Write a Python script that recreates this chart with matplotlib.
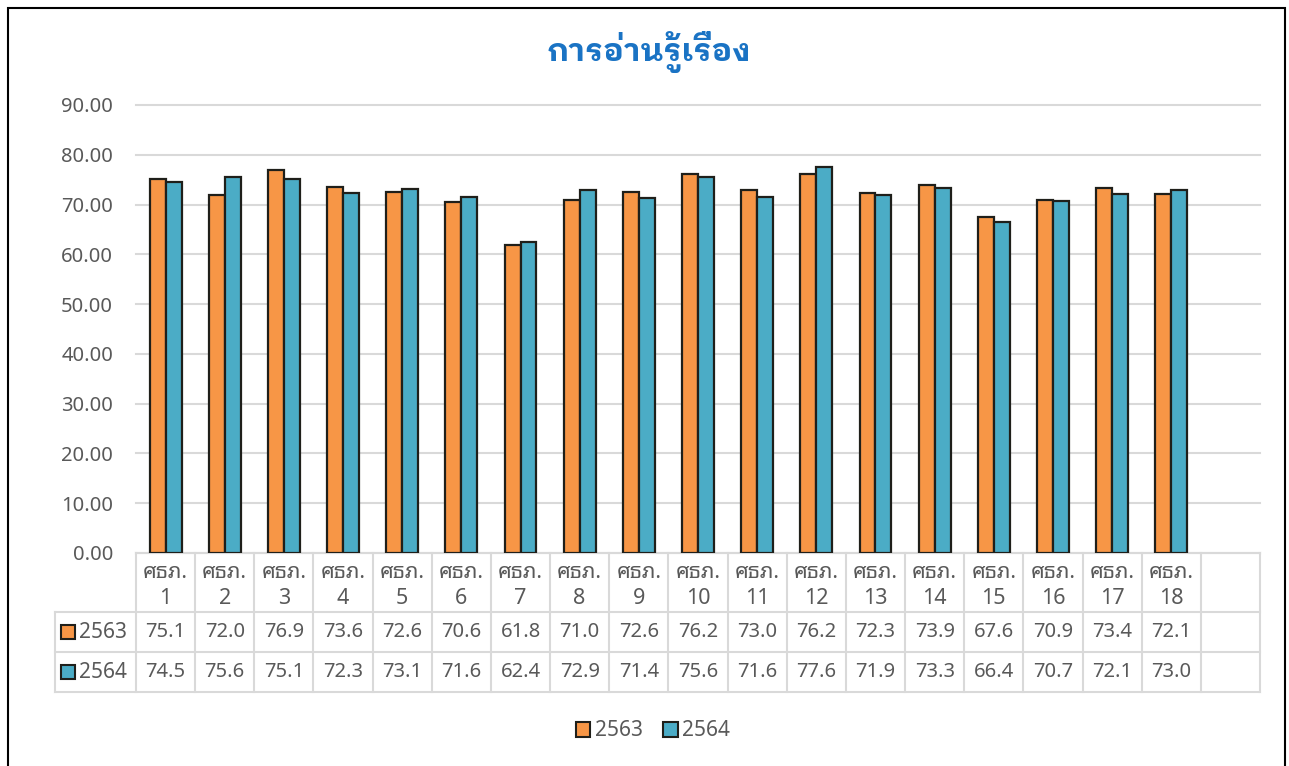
import matplotlib
matplotlib.use("Agg")
import matplotlib.pyplot as plt
import matplotlib.transforms as mtransforms
from matplotlib.patches import Rectangle
from matplotlib import font_manager as fm

# pick a looped Thai family that is installed, Noto Sans for latin/digits
prefs = ["Noto Sans Thai Looped", "IBM Plex Sans Thai Looped",
         "Noto Sans Thai", "Loma"]
installed = {f.name for f in fm.fontManager.ttflist}
bold_ok = {f.name for f in fm.fontManager.ttflist if f.weight in (700, "bold")}
thai = [f for f in prefs if f in installed][:1]
thai_bold = [f for f in prefs if f in bold_ok][:1] or thai
plt.rcParams["font.family"] = ["Noto Sans"] + thai + ["DejaVu Sans"]

title = "การอ่านรู้เรื่อง"
categories = [f"ศธภ.\n{i}" for i in range(1, 19)]
series_names = ["2563", "2564"]
values_2563 = [75.1, 72.0, 76.9, 73.6, 72.6, 70.6, 61.8, 71.0, 72.6,
               76.2, 73.0, 76.2, 72.3, 73.9, 67.6, 70.9, 73.4, 72.1]
values_2564 = [74.5, 75.6, 75.1, 72.3, 73.1, 71.6, 62.4, 72.9, 71.4,
               75.6, 71.6, 77.6, 71.9, 73.3, 66.4, 70.7, 72.1, 73.0]
yticks = [0, 10, 20, 30, 40, 50, 60, 70, 80, 90]

colors = ["#F79646", "#4BACC6"]
edge = "#1f1f1a"
grid_c = "#d9d9d9"
text_c = "#595959"

W, H = 1289, 766
fig = plt.figure(figsize=(W / 100, H / 100), dpi=100)
ax = fig.add_axes([136 / W, (H - 553) / H, 1124 / W, 448 / H])

n = len(categories)
x = list(range(n))
bw = 0.27
ax.bar([i - bw for i in x], values_2563, width=bw, align="edge",
       color=colors[0], edgecolor=edge, linewidth=1.6, zorder=3)
ax.bar(x, values_2564, width=bw, align="edge",
       color=colors[1], edgecolor=edge, linewidth=1.6, zorder=3)

ax.set_xlim(-0.5, n + 0.5)
ax.set_ylim(0, 90)
ax.set_yticks(yticks)
ax.set_yticklabels([f"{v:.2f}" for v in yticks], color=text_c, fontsize=14.5)
ax.tick_params(axis="y", length=0, pad=16.5)
ax.set_xticks([])
ax.grid(axis="y", color=grid_c, linewidth=1.5, zorder=0)
for gl in ax.get_ygridlines():
    gl.set_clip_on(False)
for s in ["top", "right", "left"]:
    ax.spines[s].set_visible(False)
ax.spines["bottom"].set_color(grid_c)
ax.spines["bottom"].set_linewidth(1.5)

# data table under the axis
blend = mtransforms.blended_transform_factory(ax.transData, ax.transAxes)
y_rows = [0, -59 / 448, -99 / 448, -139 / 448]
x_left = -81 / 1124
for i in range(n + 2):
    ax.plot([i - 0.5, i - 0.5], [y_rows[0], y_rows[3]], transform=blend,
            color=grid_c, linewidth=1.5, clip_on=False)
for yr in y_rows[1:]:
    ax.plot([x_left, 1], [yr, yr], transform=ax.transAxes,
            color=grid_c, linewidth=1.5, clip_on=False)
ax.plot([x_left, x_left], [y_rows[1], y_rows[3]], transform=ax.transAxes,
        color=grid_c, linewidth=1.5, clip_on=False)

for i, lab in enumerate(categories):
    ax.text(i, (y_rows[0] + y_rows[1]) / 2 - 3 / 448, lab, transform=blend,
            ha="center", va="center", fontsize=15.5, color=text_c,
            linespacing=1.3)
for r, vals in enumerate([values_2563, values_2564]):
    yc = (y_rows[r + 1] + y_rows[r + 2]) / 2
    for i, v in enumerate(vals):
        ax.text(i, yc, f"{v:.1f}", transform=blend, ha="center",
                va="center", fontsize=14.5, color=text_c)
    ax.add_patch(Rectangle((x_left + 6 / 1124, yc - 7 / 448), 14 / 1124,
                           14 / 448, transform=ax.transAxes,
                           facecolor=colors[r], edgecolor=edge,
                           linewidth=1.5, clip_on=False))
    ax.text(x_left + 24 / 1124, yc, series_names[r], transform=ax.transAxes,
            ha="left", va="center", fontsize=15, color=text_c)

# legend
handles = [Rectangle((0, 0), 1, 1, facecolor=c, edgecolor=edge, linewidth=1.5)
           for c in colors]
fig.legend(handles, series_names, loc="center", bbox_to_anchor=(653 / W, 1 - 731 / H),
           ncol=2, frameon=False, fontsize=15, handlelength=0.7,
           handleheight=0.7, handletextpad=0.2, columnspacing=1.0,
           labelcolor=text_c)

fig.text(649 / W, 1 - 52 / H, title, ha="center", va="center",
         fontsize=23, fontweight="bold", color="#1a73c4",
         family=thai_bold + ["DejaVu Sans"])

fig.patches.append(Rectangle((8 / W, -0.01), (1285 - 8) / W, (H - 8) / H + 0.01,
                             transform=fig.transFigure, fill=False,
                             edgecolor="black", linewidth=1.5))

fig.savefig("out.png", dpi=100)
